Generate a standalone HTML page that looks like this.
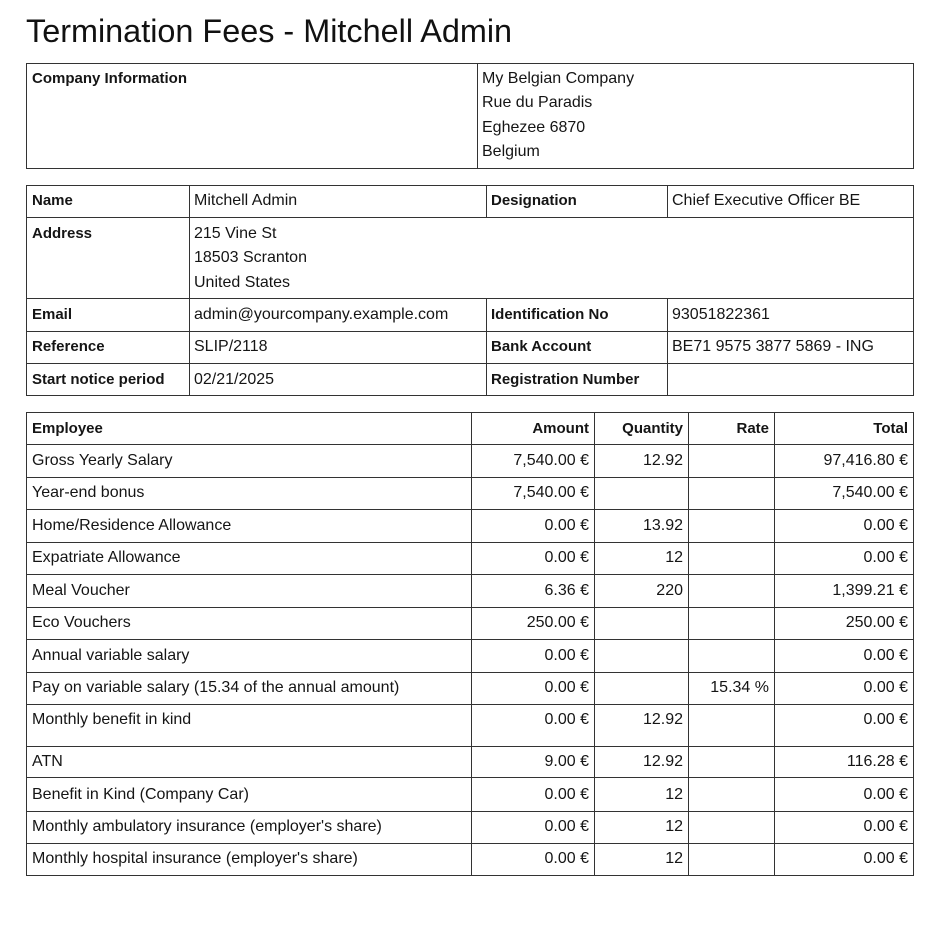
<!DOCTYPE html>
<html>
<head>
<meta charset="utf-8">
<style>
  html,body{margin:0;padding:0;background:#fff;}
  body{width:933px;height:931px;position:relative;overflow:hidden;font-family:"Liberation Sans",Arial,sans-serif;color:#151515;}
  .t{position:absolute;white-space:nowrap;font-size:16px;line-height:24.4px;margin-top:1px;}
  .b{font-weight:bold;font-size:15px;}
  .r{text-align:right;}
  .h{position:absolute;height:1px;background:#333;}
  .v{position:absolute;width:1px;background:#333;}
  .title{position:absolute;left:26px;top:11px;font-size:32.4px;line-height:40px;white-space:nowrap;color:#111;}
</style>
</head>
<body>
<div class="title">Termination Fees - Mitchell Admin</div>

<!-- Table 1 -->
<div class="h" style="left:26px;top:63px;width:888px"></div>
<div class="h" style="left:26px;top:168px;width:888px"></div>
<div class="v" style="left:26px;top:63px;height:106px"></div>
<div class="v" style="left:913px;top:63px;height:106px"></div>
<div class="v" style="left:477px;top:63px;height:106px"></div>
<div class="t b" style="left:32px;top:66px">Company Information</div>
<div class="t" style="left:482px;top:66px">My Belgian Company</div>
<div class="t" style="left:482px;top:90.4px">Rue du Paradis</div>
<div class="t" style="left:482px;top:114.8px">Eghezee 6870</div>
<div class="t" style="left:482px;top:139.2px">Belgium</div>

<!-- Table 2 -->
<div class="h" style="left:26px;top:185px;width:888px"></div>
<div class="h" style="left:26px;top:217px;width:888px"></div>
<div class="h" style="left:26px;top:298px;width:888px"></div>
<div class="h" style="left:26px;top:331px;width:888px"></div>
<div class="h" style="left:26px;top:363px;width:888px"></div>
<div class="h" style="left:26px;top:395px;width:888px"></div>
<div class="v" style="left:26px;top:185px;height:211px"></div>
<div class="v" style="left:913px;top:185px;height:211px"></div>
<div class="v" style="left:189px;top:185px;height:211px"></div>
<div class="v" style="left:486px;top:185px;height:33px"></div>
<div class="v" style="left:667px;top:185px;height:33px"></div>
<div class="v" style="left:486px;top:298px;height:98px"></div>
<div class="v" style="left:667px;top:298px;height:98px"></div>

<div class="t b" style="left:32px;top:188px">Name</div>
<div class="t" style="left:194px;top:188px">Mitchell Admin</div>
<div class="t b" style="left:491px;top:188px">Designation</div>
<div class="t" style="left:672px;top:188px">Chief Executive Officer BE</div>

<div class="t b" style="left:32px;top:221px">Address</div>
<div class="t" style="left:194px;top:221px">215 Vine St</div>
<div class="t" style="left:194px;top:245.4px">18503 Scranton</div>
<div class="t" style="left:194px;top:269.8px">United States</div>

<div class="t b" style="left:32px;top:302px">Email</div>
<div class="t" style="left:194px;top:302px">admin@yourcompany.example.com</div>
<div class="t b" style="left:491px;top:302px">Identification No</div>
<div class="t" style="left:672px;top:302px">93051822361</div>

<div class="t b" style="left:32px;top:334px">Reference</div>
<div class="t" style="left:194px;top:334px">SLIP/2118</div>
<div class="t b" style="left:491px;top:334px">Bank Account</div>
<div class="t" style="left:672px;top:334px">BE71 9575 3877 5869 - ING</div>

<div class="t b" style="left:32px;top:367px">Start notice period</div>
<div class="t" style="left:194px;top:367px">02/21/2025</div>
<div class="t b" style="left:491px;top:367px">Registration Number</div>

<!-- Table 3 -->
<div class="h" style="left:26px;top:412px;width:888px"></div>
<div class="h" style="left:26px;top:444px;width:888px"></div>
<div class="h" style="left:26px;top:477px;width:888px"></div>
<div class="h" style="left:26px;top:509px;width:888px"></div>
<div class="h" style="left:26px;top:542px;width:888px"></div>
<div class="h" style="left:26px;top:574px;width:888px"></div>
<div class="h" style="left:26px;top:607px;width:888px"></div>
<div class="h" style="left:26px;top:639px;width:888px"></div>
<div class="h" style="left:26px;top:672px;width:888px"></div>
<div class="h" style="left:26px;top:704px;width:888px"></div>
<div class="h" style="left:26px;top:746px;width:888px"></div>
<div class="h" style="left:26px;top:777px;width:888px"></div>
<div class="h" style="left:26px;top:811px;width:888px"></div>
<div class="h" style="left:26px;top:843px;width:888px"></div>
<div class="h" style="left:26px;top:875px;width:888px"></div>
<div class="v" style="left:26px;top:412px;height:464px"></div>
<div class="v" style="left:471px;top:412px;height:464px"></div>
<div class="v" style="left:594px;top:412px;height:464px"></div>
<div class="v" style="left:688px;top:412px;height:464px"></div>
<div class="v" style="left:774px;top:412px;height:464px"></div>
<div class="v" style="left:913px;top:412px;height:464px"></div>

<!-- header -->
<div class="t b" style="left:32px;top:416px">Employee</div>
<div class="t b r" style="right:344px;top:416px">Amount</div>
<div class="t b r" style="right:250px;top:416px">Quantity</div>
<div class="t b r" style="right:164px;top:416px">Rate</div>
<div class="t b r" style="right:25px;top:416px">Total</div>

<!-- rows -->
<div class="t" style="left:32px;top:447.5px">Gross Yearly Salary</div>
<div class="t r" style="right:344px;top:447.5px">7,540.00 €</div>
<div class="t r" style="right:250px;top:447.5px">12.92</div>
<div class="t r" style="right:25px;top:447.5px">97,416.80 €</div>

<div class="t" style="left:32px;top:480px">Year-end bonus</div>
<div class="t r" style="right:344px;top:480px">7,540.00 €</div>
<div class="t r" style="right:25px;top:480px">7,540.00 €</div>

<div class="t" style="left:32px;top:512.5px">Home/Residence Allowance</div>
<div class="t r" style="right:344px;top:512.5px">0.00 €</div>
<div class="t r" style="right:250px;top:512.5px">13.92</div>
<div class="t r" style="right:25px;top:512.5px">0.00 €</div>

<div class="t" style="left:32px;top:545px">Expatriate Allowance</div>
<div class="t r" style="right:344px;top:545px">0.00 €</div>
<div class="t r" style="right:250px;top:545px">12</div>
<div class="t r" style="right:25px;top:545px">0.00 €</div>

<div class="t" style="left:32px;top:577.5px">Meal Voucher</div>
<div class="t r" style="right:344px;top:577.5px">6.36 €</div>
<div class="t r" style="right:250px;top:577.5px">220</div>
<div class="t r" style="right:25px;top:577.5px">1,399.21 €</div>

<div class="t" style="left:32px;top:610px">Eco Vouchers</div>
<div class="t r" style="right:344px;top:610px">250.00 €</div>
<div class="t r" style="right:25px;top:610px">250.00 €</div>

<div class="t" style="left:32px;top:642.5px">Annual variable salary</div>
<div class="t r" style="right:344px;top:642.5px">0.00 €</div>
<div class="t r" style="right:25px;top:642.5px">0.00 €</div>

<div class="t" style="left:32px;top:675px">Pay on variable salary (15.34 of the annual amount)</div>
<div class="t r" style="right:344px;top:675px">0.00 €</div>
<div class="t r" style="right:164px;top:675px">15.34 %</div>
<div class="t r" style="right:25px;top:675px">0.00 €</div>

<div class="t" style="left:32px;top:707px">Monthly benefit in kind</div>
<div class="t r" style="right:344px;top:707px">0.00 €</div>
<div class="t r" style="right:250px;top:707px">12.92</div>
<div class="t r" style="right:25px;top:707px">0.00 €</div>

<div class="t" style="left:32px;top:748.5px">ATN</div>
<div class="t r" style="right:344px;top:748.5px">9.00 €</div>
<div class="t r" style="right:250px;top:748.5px">12.92</div>
<div class="t r" style="right:25px;top:748.5px">116.28 €</div>

<div class="t" style="left:32px;top:782px">Benefit in Kind (Company Car)</div>
<div class="t r" style="right:344px;top:782px">0.00 €</div>
<div class="t r" style="right:250px;top:782px">12</div>
<div class="t r" style="right:25px;top:782px">0.00 €</div>

<div class="t" style="left:32px;top:814px">Monthly ambulatory insurance (employer's share)</div>
<div class="t r" style="right:344px;top:814px">0.00 €</div>
<div class="t r" style="right:250px;top:814px">12</div>
<div class="t r" style="right:25px;top:814px">0.00 €</div>

<div class="t" style="left:32px;top:846px">Monthly hospital insurance (employer's share)</div>
<div class="t r" style="right:344px;top:846px">0.00 €</div>
<div class="t r" style="right:250px;top:846px">12</div>
<div class="t r" style="right:25px;top:846px">0.00 €</div>
</body>
</html>
